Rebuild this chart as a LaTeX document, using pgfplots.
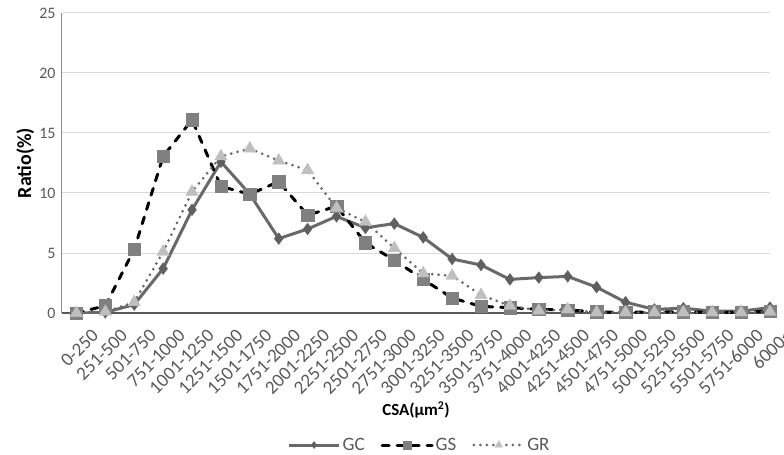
\documentclass[border=0pt]{standalone}
\usepackage{pgfplots}
\pgfplotsset{compat=1.18}
\usepackage{fontspec}
\setmainfont{Carlito}
\definecolor{tickgray}{RGB}{89,89,89}
\definecolor{gcline}{RGB}{105,105,105}
\definecolor{gcmark}{RGB}{95,95,95}
\definecolor{gsmark}{RGB}{128,128,128}
\definecolor{grmark}{RGB}{191,191,191}
\definecolor{grline}{RGB}{105,105,105}
\definecolor{gridc}{RGB}{217,217,217}
\begin{document}
\begin{tikzpicture}
\begin{axis}[name=ax, scale only axis, width=708bp, height=300bp,
  xmin=-0.5, xmax=24, ymin=0, ymax=25,
  ytick={0,5,...,25},
  xtick={0,...,24},
  xticklabels={0-250,251-500,501-750,751-1000,1001-1250,1251-1500,1501-1750,1751-2000,2001-2250,2251-2500,2501-2750,2751-3000,3001-3250,3251-3500,3501-3750,3751-4000,4001-4250,4251-4500,4501-4750,4751-5000,5001-5250,5251-5500,5501-5750,5751-6000,6000<},
  /pgf/number format/assume math mode=true,
  axis x line*=bottom, axis y line*=left,
  x axis line style={-, draw=tickgray, line width=1.3bp},
  y axis line style={-, draw={rgb,255:red,140;green,140;blue,140}, line width=1bp},
  ymajorgrids, grid style={gridc, line width=1bp},
  major tick length=0pt,
  tick label style={text=tickgray},
  yticklabel style={font=\fontsize{16}{18}\selectfont, xshift=-3bp},
  xticklabel style={font=\fontsize{19}{21}\selectfont, rotate=45, anchor=east, xshift=3bp, yshift=-27bp},
  xlabel={CSA(μm\textsuperscript{2})},
  ylabel={Ratio(\%)},
  xlabel style={font=\bfseries\fontsize{17}{19}\selectfont, at={(axis description cs:0.5,-0.323)}, anchor=center},
  ylabel style={font=\bfseries\fontsize{20}{22}\selectfont, at={(axis description cs:-0.052,0.5)}, anchor=center},
  legend columns=3,
  legend style={draw=none, at={(axis description cs:0.505,-0.44)}, anchor=center,
    font=\fontsize{19}{21}\selectfont, text=tickgray,
    /tikz/every even column/.append style={column sep=14bp}},
  legend image code/.code={%
    \draw[#1,mark=none] (0bp,0bp) -- (50bp,0bp);
    \draw[#1,every mark/.append style={scale=0.6}] plot coordinates {(25bp,0bp)};},
]
\addplot[gcline, line width=3bp, mark=diamond*, mark size=5.8bp,
  mark options={solid, fill=gcmark, draw=gcmark, line width=0.5bp}] coordinates {
(0,0) (1,0.05) (2,0.7) (3,3.7) (4,8.6) (5,12.6) (6,9.9) (7,6.2) (8,7.0) (9,8.05)
(10,7.1) (11,7.45) (12,6.3) (13,4.5) (14,4.0) (15,2.8) (16,2.95) (17,3.05) (18,2.15)
(19,0.9) (20,0.3) (21,0.4) (22,0.15) (23,0.15) (24,0.45)};
\addlegendentry{GC}
\addplot[black, line width=3bp, line cap=round, dash pattern=on 7bp off 8bp, mark=square*, mark size=6.2bp,
  mark options={solid, fill=gsmark, draw=gsmark, line width=0.3bp}] coordinates {
(0,0) (1,0.6) (2,5.3) (3,13.05) (4,16.1) (5,10.55) (6,9.9) (7,10.95) (8,8.15) (9,8.9)
(10,5.85) (11,4.4) (12,2.8) (13,1.25) (14,0.55) (15,0.45) (16,0.3) (17,0.25) (18,0.1)
(19,0.05) (20,0.1) (21,0.1) (22,0.05) (23,0.05) (24,0.15)};
\addlegendentry{GS}
\addplot[grline, line width=3bp, line cap=round, dash pattern=on 0bp off 6.5bp, mark=triangle*, mark size=7.2bp,
  mark options={solid, fill=grmark, draw=grmark, line width=0.3bp}] coordinates {
(0,0) (1,0.1) (2,0.9) (3,5.1) (4,10.1) (5,13.05) (6,13.7) (7,12.7) (8,11.9) (9,8.75)
(10,7.6) (11,5.4) (12,3.3) (13,3.1) (14,1.5) (15,0.6) (16,0.2) (17,0.3) (18,0.05)
(19,0.05) (20,0.05) (21,0.05) (22,0.05) (23,0.05) (24,0.1)};
\addlegendentry{GR}
\end{axis}
\pgfresetboundingbox
\useasboundingbox ([shift={(-62bp,-142bp)}]ax.south west) rectangle ([shift={(14bp,13bp)}]ax.north east);
\end{tikzpicture}
\end{document}
